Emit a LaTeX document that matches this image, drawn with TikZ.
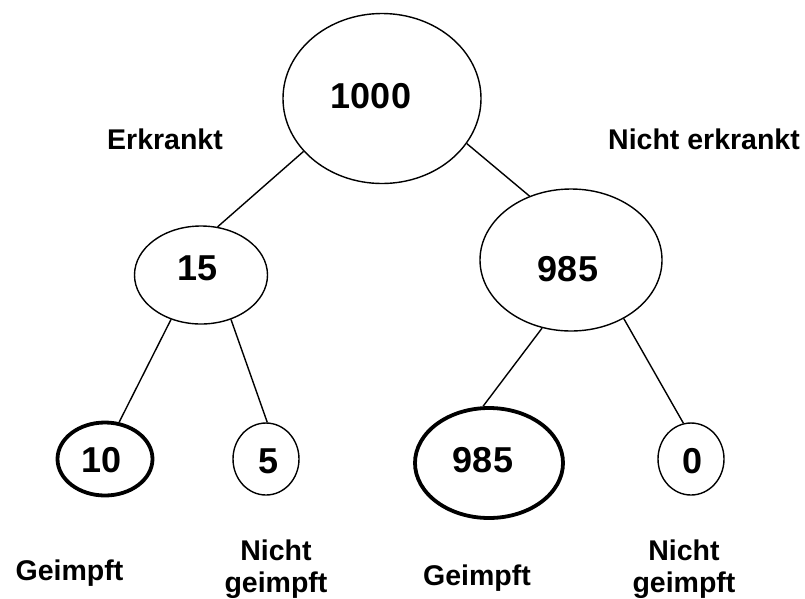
\documentclass[tikz,border=0pt]{standalone}
\usepackage{fontspec}
\setmainfont{Liberation Sans}
\usetikzlibrary{shapes.geometric}
\tikzset{
  oval/.style={draw, ellipse, inner sep=0pt, line width=1.4pt},
  bold oval/.style={oval, line width=3.8pt},
  number/.style={font=\bfseries\fontsize{36}{43}\selectfont, inner sep=0pt, anchor=base},
  caption/.style={font=\bfseries\fontsize{28.5}{31.5}\selectfont, inner sep=0pt, align=center},
  branch/.style={line width=1.4pt},
}

\begin{document}
\begin{tikzpicture}[x=1pt, y=-1pt]
  \useasboundingbox (0,0) rectangle (805,598);
  \node[oval, minimum width=198pt, minimum height=170pt] (root) at (382,98.5) {};
  \node[oval, minimum width=133pt, minimum height=98pt] (sick) at (201,275) {};
  \node[oval, minimum width=182pt, minimum height=142pt] (healthy) at (571,260) {};
  \node[bold oval, minimum width=95pt, minimum height=73pt] (sick vacc) at (105,459) {};
  \node[oval, minimum width=66pt, minimum height=72pt] (sick novacc) at (266,459) {};
  \node[bold oval, minimum width=148pt, minimum height=110pt] (healthy vacc) at (489,463) {};
  \node[oval, minimum width=66pt, minimum height=72pt] (healthy novacc) at (691,459) {};
  \node[number] (root num) at (371,108) {1000};
  \node[number] (sick num) at (198,280) {15};
  \node[number] (healthy num) at (568,281) {985};
  \node[number] (sick vacc num) at (102,472) {10};
  \node[number] (sick novacc num) at (269,473) {5};
  \node[number] (healthy vacc num) at (483,472) {985};
  \node[number] (healthy novacc num) at (692,473) {0};
  \draw[branch] (root.214.6) -- (sick.71.9);
  \draw[branch] (root.332.3) -- (healthy.123.1);
  \draw[branch] (sick.236) -- (sick vacc.69.8);
  \draw[branch] (sick.304) -- (sick novacc.88.5);
  \draw[branch] (healthy.247.5) -- (healthy vacc.96);
  \draw[branch] (healthy.312.2) -- (healthy novacc.102.5);
  \node[caption, anchor=base] (sick label) at (165,149) {Erkrankt};
  \node[caption, anchor=base] (healthy label) at (704,149) {Nicht erkrankt};
  \node[caption, anchor=base] (sick vacc label) at (69.5,580) {Geimpft};
  \node[caption, anchor=north] (sick novacc label) at (276,540) {Nicht\\geimpft};
  \node[caption, anchor=base] (healthy vacc label) at (477,585) {Geimpft};
  \node[caption, anchor=north] (healthy novacc label) at (684,540) {Nicht\\geimpft};
\end{tikzpicture}
\end{document}
